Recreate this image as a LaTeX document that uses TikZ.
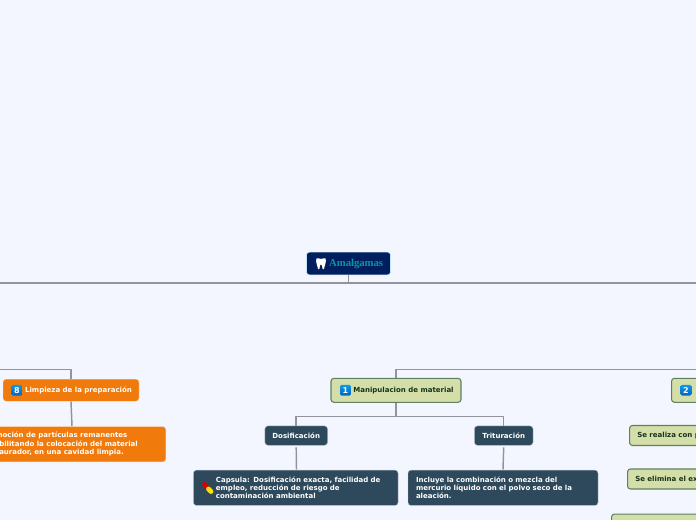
\documentclass[tikz,border=0pt]{standalone}
\usepackage{fontspec}
\setmainfont{DejaVu Sans}
\newfontfamily\rootfont{Liberation Serif}
\definecolor{paper}{HTML}{F3F6FF}
\definecolor{wire}{HTML}{92939C}
\definecolor{navy}{HTML}{011F5E}
\definecolor{teal}{HTML}{0A96A6}
\definecolor{orangefill}{HTML}{F07A0C}
\definecolor{slate}{HTML}{2D495B}
\definecolor{leaf}{HTML}{D4DEA8}
\definecolor{leafline}{HTML}{5F7F62}
\definecolor{leaftext}{HTML}{16331C}
\definecolor{icontop}{HTML}{0A9BE6}
\definecolor{iconbot}{HTML}{0560C4}
\tikzset{
	plainbox/.style={rectangle,rounded corners=2.2pt,inner sep=0pt,font=\fontsize{5.25}{6.3}\selectfont\bfseries},
	rootbox/.style={plainbox,fill=navy,draw=black!10!cyan!25!white,line width=0.4pt,text=teal,font=\fontsize{8}{9}\rootfont\bfseries},
	orangebox/.style={plainbox,fill=orangefill,draw=white!70!orangefill,line width=0.3pt,text=white},
	slatebox/.style={plainbox,fill=slate,draw=white!70!slate,line width=0.3pt,text=white},
	leafbox/.style={plainbox,fill=leaf,draw=leafline,line width=0.8pt,text=leaftext},
	numicon/.style={rectangle,rounded corners=1pt,minimum size=8pt,inner sep=0pt,top color=icontop,bottom color=iconbot,text=white,font=\fontsize{6}{6}\selectfont\bfseries},
	link/.style={draw=wire,line width=1.1pt}
}
\begin{document}
\begin{tikzpicture}[x=0.75pt,y=-0.75pt,line join=round]
	\def \xmax{696} \def \ymax{520}
	\useasboundingbox (0,0) rectangle (\xmax,\ymax);
	\fill[paper] (0,0) rectangle (\xmax,\ymax);
	\begin{scope}
		\clip (0,0) rectangle (\xmax,\ymax);
		% boxes
		\node[rootbox,minimum width=63pt,minimum height=17pt,text width=63pt,align=left] (root) at (348.5,263.5) {\hspace{17pt}Amalgamas};
		\node[orangebox,minimum width=102pt,minimum height=16.5pt] (limpieza) at (71,390.2) {\hspace{11.25pt}Limpieza de la preparación};
		\node[orangebox,anchor=east,minimum width=140pt,minimum height=26.5pt] (remocion) at (166,444.2) {};
		\node[anchor=west,plainbox,text=white,align=left] (remociontxt) at (-1,444.2) {\hspace*{-3pt}moción de partículas remanentes\\bilitando la colocación del material\\aurador, en una cavidad limpia.};
		\node[leafbox,minimum width=97.5pt,minimum height=18pt] (manipulacion) at (396,390.3) {\hspace{11.25pt}Manipulacion de material};
		\node[slatebox,minimum width=47pt,minimum height=14.5pt] (dosificacion) at (296.2,435.6) {Dosificación};
		\node[slatebox,minimum width=44pt,minimum height=14.5pt] (trituracion) at (503.7,435.6) {Trituración};
		\node[slatebox,minimum width=153.5pt,minimum height=26.5pt,text width=119.7pt,align=left] (capsula) at (295.75,487.8) {\mbox{Capsula: Dosificación exacta, facilidad de}\\empleo, reducción de riesgo de\\contaminación ambiental};
		\node[slatebox,minimum width=142.5pt,minimum height=26.5pt,text width=130.5pt,align=left] (incluye) at (503,487.8) {Incluye la combinación o mezcla del\\mercurio líquido con el polvo seco de la\\aleación.};
		\node[leafbox,anchor=west,minimum width=40pt,minimum height=18pt] (curado) at (671,390.3) {};
		\node[leafbox,anchor=west,minimum width=80pt,minimum height=15pt] (realiza) at (629,435.5) {};
		\node[leafbox,anchor=west,minimum width=80pt,minimum height=15pt] (elimina) at (627,479) {};
		\node[leafbox,anchor=north west,minimum width=90pt,minimum height=20pt] (ultimo) at (611,513.5) {};
		\node[plainbox,anchor=west,text=leaftext] (realizatxt) at (637,435.5) {Se realiza con p};
		\node[plainbox,anchor=west,text=leaftext] (eliminatxt) at (635,479) {Se elimina el ex};
		% number icons
		\foreach \n/\x/\y/\t in {ocho/17/390.2/8,uno/345.5/390.3/1,dos/686/390.3/2}
			\node[numicon] (\n) at (\x,\y) {\t};
		% tooth
		\fill[white] (316.5,258.5) .. controls (318,257.5) and (319.5,259) .. (321,259) .. controls (322.5,259) and (324,257.5) .. (325.5,258.5) .. controls (326.5,262) and (325,264) .. (324.7,266) .. controls (324.4,268) and (324,269.5) .. (323.2,269.5) .. controls (322,269.5) and (322.5,264.5) .. (321,264.5) .. controls (319.5,264.5) and (320,269.5) .. (318.8,269.5) .. controls (318,269.5) and (317.6,268) .. (317.3,266) .. controls (317,264) and (315.5,262) .. (316.5,258.5) -- cycle;
		% pill
		\draw[line width=3.6pt,line cap=round,red!85!black] (204.5,484.5) -- (208,488.5);
		\draw[line width=3.6pt,line cap=round,yellow!85!orange] (208.5,489) -- (211,491.5);
		% connectors
		\coordinate (rootleft) at (0,283);
		\coordinate (rootright) at (\xmax,283);
		\coordinate (leftbus) at (0,369.5);
		\coordinate (rightbus) at (\xmax,369.5);
		\coordinate (matbus) at (396,416.5);
		\coordinate (remociontop) at (72,426);
		\coordinate (capsulatop) at (296.5,469.5);
		\coordinate (incluyetop) at (503,469.5);
		\draw[link] (rootleft) -- (rootright);
		\draw[link] (root.south) -- (root.south |- rootleft);
		\draw[link] (manipulacion.north) |- (rightbus);
		\draw[link] (limpieza.north) |- (leftbus);
		\draw[link] (manipulacion.south) -- (matbus);
		\draw[link] (dosificacion.north) |- (matbus);
		\draw[link] (trituracion.north) |- (matbus);
		\draw[link] (limpieza.south) -- (remociontop);
		\draw[link] ([yshift=-1.5pt]dosificacion.south) -- (capsulatop);
		\draw[link] ([yshift=-1.5pt]trituracion.south) -- (incluyetop);
	\end{scope}
\end{tikzpicture}
\end{document}
